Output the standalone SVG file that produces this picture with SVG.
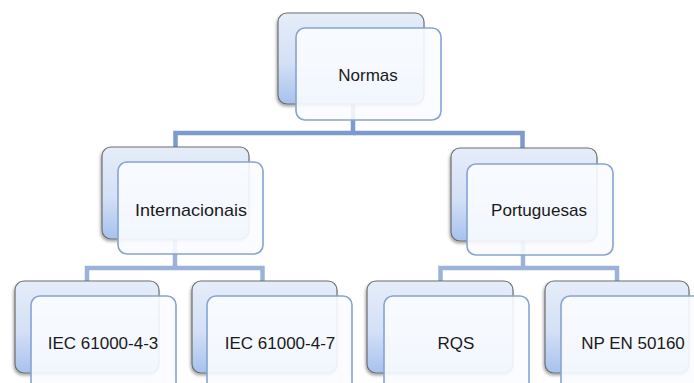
<svg xmlns="http://www.w3.org/2000/svg" width="694" height="383" viewBox="0 0 694 383">
  <defs>
    <linearGradient id="backFill" x1="0" y1="0" x2="0" y2="1">
      <stop offset="0" stop-color="#E6EDF9"/>
      <stop offset="0.55" stop-color="#D3E0F6"/>
      <stop offset="1" stop-color="#A7C1EE"/>
    </linearGradient>
    <filter id="shadow" x="-10%" y="-10%" width="120%" height="125%">
      <feDropShadow dx="-1" dy="2" stdDeviation="1.5" flood-color="#000" flood-opacity="0.35"/>
    </filter>
  </defs>
  <style>
    .back { fill: url(#backFill); stroke: #6E6E6E; stroke-width: 1.2; filter: url(#shadow); }
    .front { fill: #FAFCFF; fill-opacity: 0.9; stroke: #86A3D2; stroke-width: 1.6; }
    .lbl { font-family: "Liberation Sans", Arial, sans-serif; font-size: 17px; fill: #1A1A1A; text-anchor: middle; }
    .c1 { fill: none; stroke: #7C9ACB; stroke-width: 4.5; }
    .c2 { fill: none; stroke: #9DB2D9; stroke-width: 4.5; }
  </style>
  <rect width="694" height="383" fill="#FFFFFF"/>

  <!-- connectors sit under the translucent cards -->
  <g id="connectors">
    <polyline class="c1" points="175.5,150 175.5,133 353,133 353,100"/>
    <polyline class="c1" points="522.5,150 522.5,133 353,133"/>
    <polyline class="c2" points="87,283 87,268 262.5,268 262.5,283"/>
    <line class="c2" x1="175" y1="236" x2="175" y2="268"/>
    <polyline class="c2" points="440.5,283 440.5,268 617,268 617,283"/>
    <line class="c2" x1="523" y1="238" x2="523" y2="268"/>
  </g>

  <g id="normas">
    <rect class="back" x="278" y="13" width="146" height="91" rx="9"/>
    <rect class="front" x="296" y="28" width="145" height="92" rx="9"/>
    <text class="lbl" x="368" y="81">Normas</text>
  </g>

  <g id="internacionais">
    <rect class="back" x="102" y="147" width="147" height="92" rx="9"/>
    <rect class="front" x="118" y="162" width="145" height="92" rx="9"/>
    <text class="lbl" x="191" y="216" textLength="112" lengthAdjust="spacingAndGlyphs">Internacionais</text>
  </g>

  <g id="portuguesas">
    <rect class="back" x="451" y="148" width="146" height="93" rx="9"/>
    <rect class="front" x="467" y="164" width="146" height="91" rx="9"/>
    <text class="lbl" x="539" y="216" textLength="96" lengthAdjust="spacingAndGlyphs">Portuguesas</text>
  </g>

  <g id="iec-61000-4-3">
    <rect class="back" x="15" y="281" width="144" height="92" rx="9"/>
    <rect class="front" x="31" y="296" width="145" height="95" rx="9"/>
    <text class="lbl" x="103" y="349">IEC 61000-4-3</text>
  </g>

  <g id="iec-61000-4-7">
    <rect class="back" x="192" y="281" width="145" height="92" rx="9"/>
    <rect class="front" x="207" y="296" width="145" height="95" rx="9"/>
    <text class="lbl" x="280" y="349">IEC 61000-4-7</text>
  </g>

  <g id="rqs">
    <rect class="back" x="367" y="281" width="146" height="92" rx="9"/>
    <rect class="front" x="384" y="296" width="145" height="95" rx="9"/>
    <text class="lbl" x="456" y="349">RQS</text>
  </g>

  <g id="np-en-50160">
    <rect class="back" x="545" y="281" width="144" height="92" rx="9"/>
    <rect class="front" x="561" y="296" width="145" height="95" rx="9"/>
    <text class="lbl" x="633" y="349">NP EN 50160</text>
  </g>
</svg>
